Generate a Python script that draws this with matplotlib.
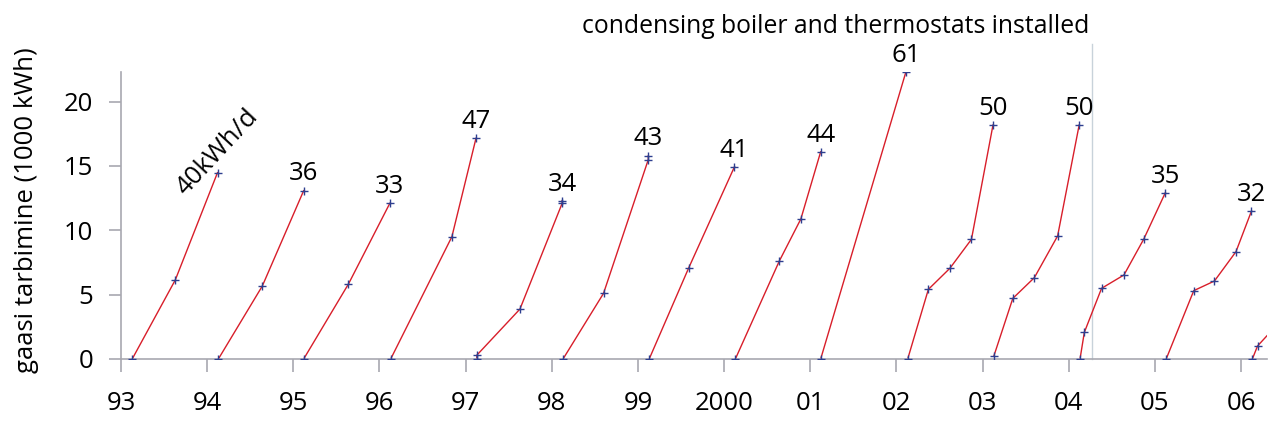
import matplotlib
matplotlib.use("Agg")
import matplotlib.pyplot as plt

plt.rcParams['font.family'] = ['Open Sans', 'DejaVu Sans']

# x = year (93 = 1993, 100 = 2000 ...), y = cumulative gas use (1000 kWh)
s93_x = [93.13, 93.63, 94.12]
s93_y = [0.0, 6.14, 14.48]
s94_x = [94.13, 94.64, 95.12]
s94_y = [0.0, 5.67, 13.08]
s95_x = [95.12, 95.64, 96.12]
s95_y = [0.0, 5.83, 12.1]
s96_x = [96.13, 96.84, 97.12]
s96_y = [0.0, 9.5, 17.15]
s97_x = [97.13, 97.13, 97.63, 98.12, 98.12]
s97_y = [0.0, 0.3, 3.88, 12.1, 12.3]
s98_x = [98.13, 98.60, 99.12, 99.12]
s98_y = [0.0, 5.1, 15.5, 15.8]
s99_x = [99.13, 99.59, 100.12]
s99_y = [0.0, 7.1, 14.94]
s00_x = [100.13, 100.64, 100.89, 101.12]
s00_y = [0.0, 7.61, 10.88, 16.1]
s01_x = [101.12, 102.11]
s01_y = [0.0, 22.32]
s02_x = [102.13, 102.37, 102.62, 102.87, 103.12]
s02_y = [0.0, 5.41, 7.05, 9.3, 18.18]
s03_x = [103.13, 103.35, 103.60, 103.87, 104.12]
s03_y = [0.23, 4.71, 6.32, 9.56, 18.18]
s04_x = [104.13, 104.18, 104.38, 104.64, 104.87, 105.12]
s04_y = [0.0, 2.07, 5.49, 6.53, 9.32, 12.92]
s05_x = [105.13, 105.45, 105.69, 105.94, 106.12]
s05_y = [0.0, 5.31, 6.06, 8.34, 11.5]
s06_x = [106.13, 106.19, 106.45]
s06_y = [0.0, 1.01, 2.9]

series = [(s93_x, s93_y), (s94_x, s94_y), (s95_x, s95_y), (s96_x, s96_y),
          (s97_x, s97_y), (s98_x, s98_y), (s99_x, s99_y), (s00_x, s00_y),
          (s01_x, s01_y), (s02_x, s02_y), (s03_x, s03_y), (s04_x, s04_y),
          (s05_x, s05_y), (s06_x, s06_y)]

rate_labels = ["40kWh/d", "36", "33", "47", "34", "43", "41", "44", "61",
               "50", "50", "35", "32", None]

tick_pos = [93, 94, 95, 96, 97, 98, 99, 100, 101, 102, 103, 104, 105, 106]
tick_labels = ["93", "94", "95", "96", "97", "98", "99", "2000", "01", "02",
               "03", "04", "05", "06"]
ytick_pos = [0, 5, 10, 15, 20]

event_x = 104.27
event_text = "condensing boiler and thermostats installed"
ylabel_text = "gaasi tarbimine (1000 kWh)"

fig = plt.figure(figsize=(12.8, 4.25), dpi=100)
ax = fig.add_axes([121 / 1280, 1 - 359 / 425, (1267 - 121) / 1280, (359 - 72) / 425])

line_color = "#d81e2a"
mark_color = "#2e3f8f"
axis_color = "#a8a8b0"

for (xs, ys), lab in zip(series, rate_labels):
    ax.plot(xs, ys, color=line_color, lw=1.0, zorder=2)
    ax.plot(xs, ys, ls="none", marker="+", ms=5.5, mew=1.0, color=mark_color, zorder=3)
    if lab is None:
        continue
    if lab.endswith("d"):
        ax.annotate(lab, (xs[-1], ys[-1]), xytext=(0, 15), textcoords="offset points",
                    rotation=47, ha="center", va="center", fontsize=18.5)
    else:
        ax.annotate(lab, (xs[-1], ys[-1]), xytext=(0, 3), textcoords="offset points",
                    ha="center", va="bottom", fontsize=18.5)

ax.set_xlim(93, 106.3)
ax.set_ylim(0, 22.3)
ax.set_xticks(tick_pos)
ax.set_xticklabels(tick_labels)
ax.set_yticks(ytick_pos)
ax.tick_params(axis="both", direction="out", length=9, width=1.2, color=axis_color,
               labelsize=18.5)
ax.tick_params(axis="x", pad=14)
ax.tick_params(axis="y", pad=11)
for side in ["top", "right"]:
    ax.spines[side].set_visible(False)
for side in ["left", "bottom"]:
    ax.spines[side].set_color(axis_color)
    ax.spines[side].set_linewidth(1.2)

ax.plot([event_x, event_x], [0, 24.5], color="#c8d2da", lw=1.0, clip_on=False, zorder=1)
ax.text(event_x - 0.03, 25.3, event_text, ha="right", va="baseline", fontsize=17.8)

fig.text(27 / 1280, 1 - 210 / 425, ylabel_text, rotation=90, ha="center", va="center",
         fontsize=18.5)

fig.savefig("out.png", dpi=100)
